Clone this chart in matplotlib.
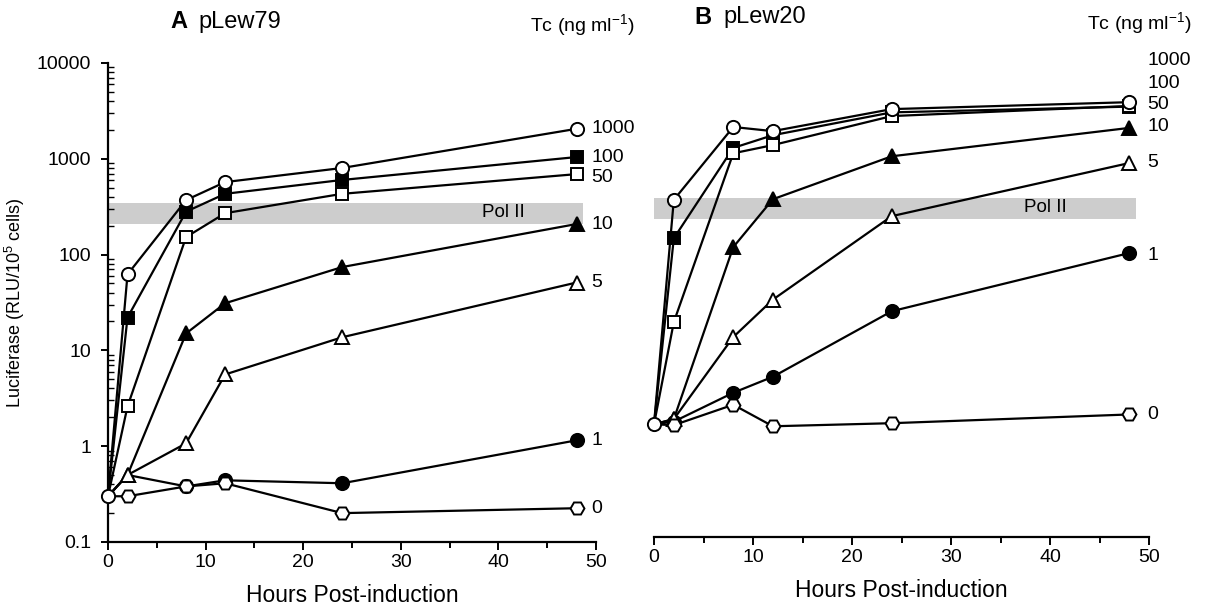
import numpy as np
import matplotlib
matplotlib.use('Agg')
import matplotlib.pyplot as plt

plt.rcParams['font.family'] = ['Liberation Sans', 'DejaVu Sans']
plt.rcParams['mathtext.fontset'] = 'custom'
plt.rcParams['mathtext.rm'] = 'Liberation Sans'
plt.rcParams['mathtext.it'] = 'Liberation Sans'

# Time points (hours post-induction)
hours = [0, 2, 8, 12, 24, 48]

# Tetracycline concentrations (ng/ml), in drawing order
doses = ['1', '10', '5', '0', '100', '50', '1000']

# Panel A: pLew79 luciferase values
a_vals = {
    '1000': [0.3, 62, 370, 570, 800, 2050],
    '100': [0.3, 22, 280, 430, 600, 1040],
    '50': [0.3, 2.6, 152, 270, 430, 690],
    '10': [0.3, 0.5, 15, 31, 74, 208],
    '5': [0.3, 0.5, 1.07, 5.6, 13.7, 51],
    '1': [0.3, 0.5, 0.38, 0.44, 0.41, 1.15],
    '0': [0.3, 0.3, 0.38, 0.41, 0.2, 0.225],
}

# Panel B: pLew20 luciferase values
b_vals = {
    '1000': [1.5, 330, 1900, 1720, 2920, 3450],
    '100': [1.5, 131, 1150, 1560, 2700, 3100],
    '50': [1.5, 17.5, 1010, 1230, 2470, 3150],
    '10': [1.5, 1.7, 106, 335, 940, 1860],
    '5': [1.5, 1.7, 12.2, 30, 223, 800],
    '1': [1.5, 1.6, 3.2, 4.7, 22.7, 92],
    '0': [1.5, 1.47, 2.4, 1.43, 1.54, 1.9],
}

# Pol II reference band (RLU/10^5 cells)
polii_band = [210, 345]

# marker style per dose
styles = {
    '1000': ('o', 'white', 9.5),
    '100': ('s', 'black', 8.5),
    '50': ('s', 'white', 8.5),
    '10': ('^', 'black', 9.5),
    '5': ('^', 'white', 9.5),
    '1': ('o', 'black', 9.5),
    '0': ('H', 'white', 10),
}

fig = plt.figure(figsize=(12.08, 6.08), dpi=100)
ax_a = fig.add_axes([0.0894, 0.1086, 0.404, 0.788])
ax_b = fig.add_axes([0.5414, 0.1168, 0.41, 0.788])


def draw_panel(ax, vals, hidden=None):
    hidden = hidden or {}
    ax.fill_between([0, 48.7], polii_band[0], polii_band[1],
                    color='#cdcdcd', lw=0, zorder=1)
    for d in doses:
        m, fc, ms = styles[d]
        start = 0 if d == '1000' else 1
        every = [i for i in range(start, len(hours)) if i not in hidden.get(d, [])]
        ax.plot(hours, vals[d], color='black', lw=1.6, marker=m,
                markerfacecolor=fc, markeredgecolor='black',
                markeredgewidth=1.4, markersize=ms, markevery=every,
                zorder=3, clip_on=False)
    ax.set_yscale('log')
    ax.set_ylim(0.1, 10000)
    ax.set_xlim(0, 50)
    ax.set_xticks([0, 10, 20, 30, 40, 50])
    ax.set_xticks([5, 15, 25, 35, 45], minor=True)
    ax.spines['top'].set_visible(False)
    ax.spines['right'].set_visible(False)
    ax.spines['bottom'].set_linewidth(1.6)
    ax.spines['left'].set_linewidth(1.6)
    ax.tick_params(axis='x', which='major', direction='out', length=6,
                   width=1.4, labelsize=14, pad=3)
    ax.tick_params(axis='x', which='minor', direction='out', length=4,
                   width=1.4)
    ax.set_xlabel('Hours Post-induction', fontsize=16.5, labelpad=9)


# the 1 ng/ml marker at 2 h in A sits under the 5 ng/ml triangle
draw_panel(ax_a, a_vals, hidden={'1': [1]})
draw_panel(ax_b, b_vals)

# Panel A y axis
ax_a.set_yticks([0.1, 1, 10, 100, 1000, 10000])
ax_a.set_yticklabels(['0.1', '1', '10', '100', '1000', '10000'])
ax_a.tick_params(axis='y', which='major', direction='out', length=5,
                 width=1.4, labelsize=14, pad=7)
ax_a.tick_params(axis='y', which='minor', direction='in', length=4,
                 width=1.0, labelleft=False)
ax_a.set_ylabel('Luciferase (RLU/10$^5$ cells)', fontsize=13, labelpad=7)

# Panel B has no y axis
ax_b.spines['left'].set_visible(False)
ax_b.tick_params(axis='y', which='both', left=False, labelleft=False)

# dose labels at the right end of each curve
for d in ['1000', '100', '10', '5', '1', '0']:
    ax_a.text(49.5, a_vals[d][-1], d, fontsize=14, ha='left', va='center')
ax_a.text(49.5, 630, '50', fontsize=14, ha='left', va='center')

b_label_y = {'1000': 9500, '100': 5450, '50': 3230, '10': 1900,
             '5': 800, '1': 87, '0': 1.9}
for d, y in b_label_y.items():
    ax_b.text(49.8, y, d, fontsize=14, ha='left', va='center', clip_on=False)

ax_a.text(38.3, 275, 'Pol II', fontsize=13.5, ha='left', va='center')
ax_b.text(37.4, 275, 'Pol II', fontsize=13.5, ha='left', va='center')

# panel titles
fig.text(170 / 1208, 1 - 22 / 608, 'A', fontsize=17, fontweight='bold',
         ha='left', va='center')
fig.text(198 / 1208, 1 - 22 / 608, 'pLew79', fontsize=17,
         ha='left', va='center')
fig.text(530 / 1208, 1 - 25 / 608, 'Tc (ng ml$^{\\mathrm{-1}}$)', fontsize=14,
         ha='left', va='center')
fig.text(694 / 1208, 1 - 17 / 608, 'B', fontsize=17, fontweight='bold',
         ha='left', va='center')
fig.text(723 / 1208, 1 - 17 / 608, 'pLew20', fontsize=17,
         ha='left', va='center')
fig.text(1087 / 1208, 1 - 23 / 608, 'Tc (ng ml$^{\\mathrm{-1}}$)', fontsize=14,
         ha='left', va='center')

fig.savefig('out.png', dpi=100)
